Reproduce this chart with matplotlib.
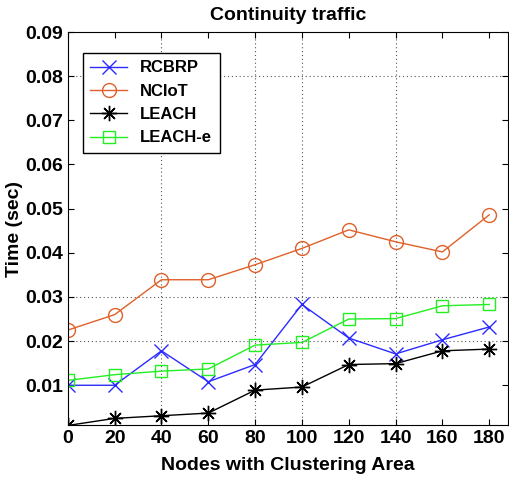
import matplotlib
matplotlib.use("Agg")
import matplotlib.pyplot as plt

nodes = [0, 20, 40, 60, 80, 100, 120, 140, 160, 180]
rcbrp = [0.0100, 0.0100, 0.0178, 0.0108, 0.0147, 0.0283, 0.0207, 0.0171, 0.0203, 0.0232]
nciot = [0.0225, 0.0260, 0.0339, 0.0339, 0.0373, 0.0410, 0.0452, 0.0425, 0.0402, 0.0486]
leach = [0.0009, 0.0025, 0.0031, 0.0037, 0.0089, 0.0096, 0.0147, 0.0149, 0.0178, 0.0182]
leach_e = [0.0111, 0.0124, 0.0132, 0.0137, 0.0191, 0.0197, 0.0250, 0.0251, 0.0280, 0.0283]

# partial dotted grid as seen in the source image
grid_x = [40, 80, 100, 140]
grid_y = [0.02, 0.03, 0.08]

plt.rcParams['font.family'] = ['Liberation Sans', 'DejaVu Sans']
plt.rcParams['font.weight'] = 'bold'

fig = plt.figure(figsize=(5.1, 4.86), dpi=100)
ax = fig.add_axes([0.133, 0.1255, 0.863, 0.8086])

for gx in grid_x:
    ax.axvline(gx, color='#555555', ls=(0, (1, 2.5)), lw=0.8, zorder=0)
for gy in grid_y:
    ax.axhline(gy, color='#555555', ls=(0, (1, 2.5)), lw=0.8, zorder=0)

ax.plot(nodes, rcbrp, color='#2b2bff', marker='x', ms=10, mew=1, lw=1, label='RCBRP')
ax.plot(nodes, nciot, color='#e0602a', marker='o', ms=10, mfc='none', mew=1, lw=1, label='NCIoT')
ax.plot(nodes, leach, color='black', marker=(8, 2, 0), ms=11, mew=1, lw=1, label='LEACH')
ax.plot(nodes, leach_e, color='#22ee22', marker='s', ms=9, mfc='none', mew=1, lw=1, label='LEACH-e')

ax.set_xlim(0, 188)
ax.set_ylim(0.001, 0.09)
ax.set_xticks(nodes)
ax.set_yticks([0.01, 0.02, 0.03, 0.04, 0.05, 0.06, 0.07, 0.08, 0.09])
ax.tick_params(direction='in', top=True, right=True, labelsize=14, length=4)
for lab in ax.get_xticklabels() + ax.get_yticklabels():
    lab.set_fontweight('bold')

ax.set_title('Continuity traffic', fontsize=14, fontweight='bold', pad=9)
ax.set_xlabel('Nodes with Clustering Area', fontsize=14, fontweight='bold', labelpad=7)
ax.set_ylabel('Time (sec)', fontsize=14, fontweight='bold')
ax.yaxis.set_label_coords(-0.102, 0.5)

leg = ax.legend(loc='upper left', bbox_to_anchor=(0.034, 0.947), borderaxespad=0,
                fontsize=12, fancybox=False, edgecolor='black', framealpha=1,
                handlelength=2.2, borderpad=0.45, labelspacing=0.5)
leg.get_frame().set_linewidth(1)
for t in leg.get_texts():
    t.set_fontweight('bold')

fig.savefig('out.png', dpi=100)
